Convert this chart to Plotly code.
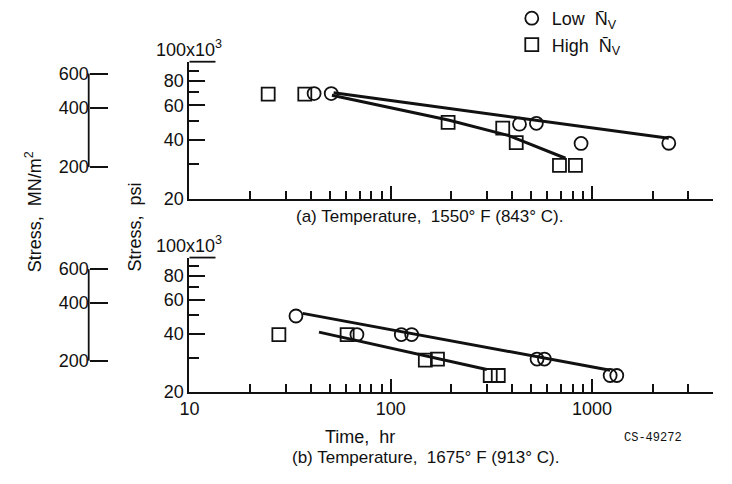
import numpy as np
import plotly.graph_objects as go

# ---------------- data (time in hr, stress in psi x 10^3) ----------------
# (a) Temperature 1550 F
a_low_time = [41.6, 50.6, 436, 529, 882, 2406]
a_low_stress = [68.8, 68.8, 48.0, 48.5, 38.3, 38.4]
a_high_time = [24.6, 37.4, 192.7, 360, 420, 689, 827]
a_high_stress = [68.3, 68.3, 49.1, 45.8, 38.7, 29.6, 29.6]
a_low_fit_time = [52, 2406]
a_low_fit_stress = [69.4, 40.7]
a_high_fit_time = [51, 193, 386, 738]
a_high_fit_stress = [67.5, 50.4, 42.0, 32.2]

# (b) Temperature 1675 F
b_low_time = [33.8, 67.9, 112.8, 127, 533, 580, 1230, 1327]
b_low_stress = [49.6, 39.7, 39.7, 39.7, 29.6, 29.6, 24.3, 24.3]
b_high_time = [27.8, 60.7, 148.5, 170.6, 312, 342]
b_high_stress = [39.7, 39.7, 29.2, 29.6, 24.3, 24.3]
b_low_fit_time = [36.5, 1230]
b_low_fit_stress = [51.2, 25.9]
b_high_fit_time = [44, 300]
b_high_fit_stress = [40.9, 26.1]

# axis ticks
x_major = [10, 100, 1000, 4000]
x_major_text = ["10", "100", "1000", "4000"]
x_minor = [20, 30, 40, 50, 60, 70, 80, 90, 200, 300, 400, 500, 600, 700, 800, 900, 2000, 3000]
psi_major = [20, 40, 60, 80, 100]
psi_major_text = ["20", "40", "60", "80", ""]
psi_minor = [30, 50, 70, 90]
psi_range = [20, 100]
mpa_ticks = [200, 400, 600]
mpa_line = [200, 600]
KSI_TO_MPA = 6.89476

FONT = "Liberation Sans, Arial, sans-serif"
BLACK = "#111111"
FS = 18

fig = go.Figure()

def add_points(xs, ys, sym, name, xa, ya, show):
    fig.add_trace(go.Scatter(
        x=xs, y=ys, mode="markers", name=name, showlegend=show,
        marker=dict(symbol=sym, size=13, color=BLACK, line=dict(width=1.8, color=BLACK)),
        xaxis=xa, yaxis=ya))

def add_line(xs, ys, xa, ya):
    fig.add_trace(go.Scatter(
        x=xs, y=ys, mode="lines", showlegend=False,
        line=dict(color=BLACK, width=3), xaxis=xa, yaxis=ya))

LOW = "Low  N\u0304<sub>V</sub>"
HIGH = "High  N\u0304<sub>V</sub>"

add_line(a_low_fit_time, a_low_fit_stress, "x", "y")
add_line(a_high_fit_time, a_high_fit_stress, "x", "y")
add_points(a_low_time, a_low_stress, "circle-open", LOW, "x", "y", True)
add_points(a_high_time, a_high_stress, "square-open", HIGH, "x", "y", True)

add_line(b_low_fit_time, b_low_fit_stress, "x2", "y2")
add_line(b_high_fit_time, b_high_fit_stress, "x2", "y2")
add_points(b_low_time, b_low_stress, "circle-open", LOW, "x2", "y2", False)
add_points(b_high_time, b_high_stress, "square-open", HIGH, "x2", "y2", False)

# empty traces that keep the MN/m^2 scales alive
fig.add_trace(go.Scatter(x=[None], y=[None], xaxis="x", yaxis="y3", showlegend=False, hoverinfo="skip"))
fig.add_trace(go.Scatter(x=[None], y=[None], xaxis="x2", yaxis="y4", showlegend=False, hoverinfo="skip"))

xdom = [0.2486, 0.974]
ydom_a = [0.5806, 0.8698]
ydom_b = [0.1736, 0.4566]
mn_pos = 0.109

def xaxis(anchor, labels):
    return dict(
        type="log", range=[np.log10(10), np.log10(4000)], domain=xdom, anchor=anchor,
        tickvals=x_major, ticktext=x_major_text, showticklabels=labels,
        ticks="inside", ticklen=13, tickwidth=1.6, tickcolor=BLACK,
        minor=dict(tickvals=x_minor, ticks="inside", ticklen=8, tickwidth=1.6, tickcolor=BLACK),
        showline=True, linecolor=BLACK, linewidth=2, showgrid=False, zeroline=False,
        tickfont=dict(family=FONT, size=FS, color=BLACK))

def yaxis(anchor, dom):
    return dict(
        type="log", range=[np.log10(psi_range[0]), np.log10(psi_range[1])], domain=dom,
        anchor=anchor, tickvals=psi_major, ticktext=psi_major_text,
        ticks="inside", ticklen=16, tickwidth=1.8, tickcolor=BLACK,
        minor=dict(tickvals=psi_minor, ticks="inside", ticklen=10, tickwidth=1.8, tickcolor=BLACK),
        showline=True, linecolor=BLACK, linewidth=2, showgrid=False, zeroline=False,
        tickfont=dict(family=FONT, size=FS, color=BLACK))

def mpa_axis(over):
    return dict(
        type="log", overlaying=over, anchor="free", position=mn_pos, side="left",
        range=[np.log10(psi_range[0] * KSI_TO_MPA), np.log10(psi_range[1] * KSI_TO_MPA)],
        tickvals=mpa_ticks, ticktext=[str(v) for v in mpa_ticks],
        ticks="inside", ticklen=18, tickwidth=1.8, tickcolor=BLACK,
        showline=False, showgrid=False, zeroline=False,
        tickfont=dict(family=FONT, size=FS, color=BLACK))

fig.update_layout(
    width=732, height=484, margin=dict(l=0, r=0, t=0, b=0),
    paper_bgcolor="white", plot_bgcolor="white",
    xaxis=xaxis("y", False), yaxis=yaxis("x", ydom_a),
    xaxis2=xaxis("y2", True), yaxis2=yaxis("x2", ydom_b),
    yaxis3=mpa_axis("y"), yaxis4=mpa_axis("y2"),
    legend=dict(x=0.695, y=1.0, xanchor="left", yanchor="top", bgcolor="rgba(0,0,0,0)",
                font=dict(family=FONT, size=FS, color=BLACK), tracegroupgap=0, itemwidth=30),
    showlegend=True,
)

# MN/m^2 scale bar, expressed as a fraction of each psi axis domain
lo, hi = np.log10(psi_range[0]), np.log10(psi_range[1])
def frac(mpa):
    return (np.log10(mpa / KSI_TO_MPA) - lo) / (hi - lo)

shapes = []
for ya in ["y", "y2"]:
    shapes.append(dict(type="line", xref="paper", yref=ya + " domain", x0=mn_pos, x1=mn_pos,
                       y0=frac(mpa_line[0]), y1=frac(mpa_line[1]),
                       line=dict(color=BLACK, width=1.8)))
for xa, ya in [("x", "y"), ("x2", "y2")]:
    shapes.append(dict(type="line", xref=xa + " domain", yref=ya + " domain", xsizemode="pixel",
                       xanchor=0, x0=0, x1=26, y0=1, y1=1,
                       line=dict(color=BLACK, width=1.8)))
fig.update_layout(shapes=shapes)

def txt(text, x, y, size=FS, family=FONT, angle=0):
    return dict(text=text, xref="paper", yref="paper", x=x / 732, y=1 - y / 484,
                xanchor="center", yanchor="middle", textangle=angle, showarrow=False,
                font=dict(family=family, size=size, color=BLACK))

ann = []
for xa, ya in [("x", "y"), ("x2", "y2")]:
    ann.append(dict(text="100x10<sup>3</sup>", xref=xa + " domain", yref=ya + " domain", x=0,
                    y=1, xanchor="center", yanchor="bottom", yshift=0,
                    showarrow=False, font=dict(family=FONT, size=FS, color=BLACK)))
ann += [
    txt("Stress,  MN/m<sup>2</sup>", 24, 216, angle=-90),
    txt("Stress,  psi", 127, 232, angle=-90),
    txt("(a) Temperature,  1550\u00b0 F (843\u00b0 C).", 425, 221, size=FS - 1),
    txt("Time,  hr", 355, 446),
    txt("CS-49272", 652, 447, size=12, family="Liberation Mono, DejaVu Sans Mono, monospace"),
    txt("(b) Temperature,  1675\u00b0 F (913\u00b0 C).", 421, 467, size=FS - 1),
]
fig.update_layout(annotations=ann)

fig.write_html("out.html")
